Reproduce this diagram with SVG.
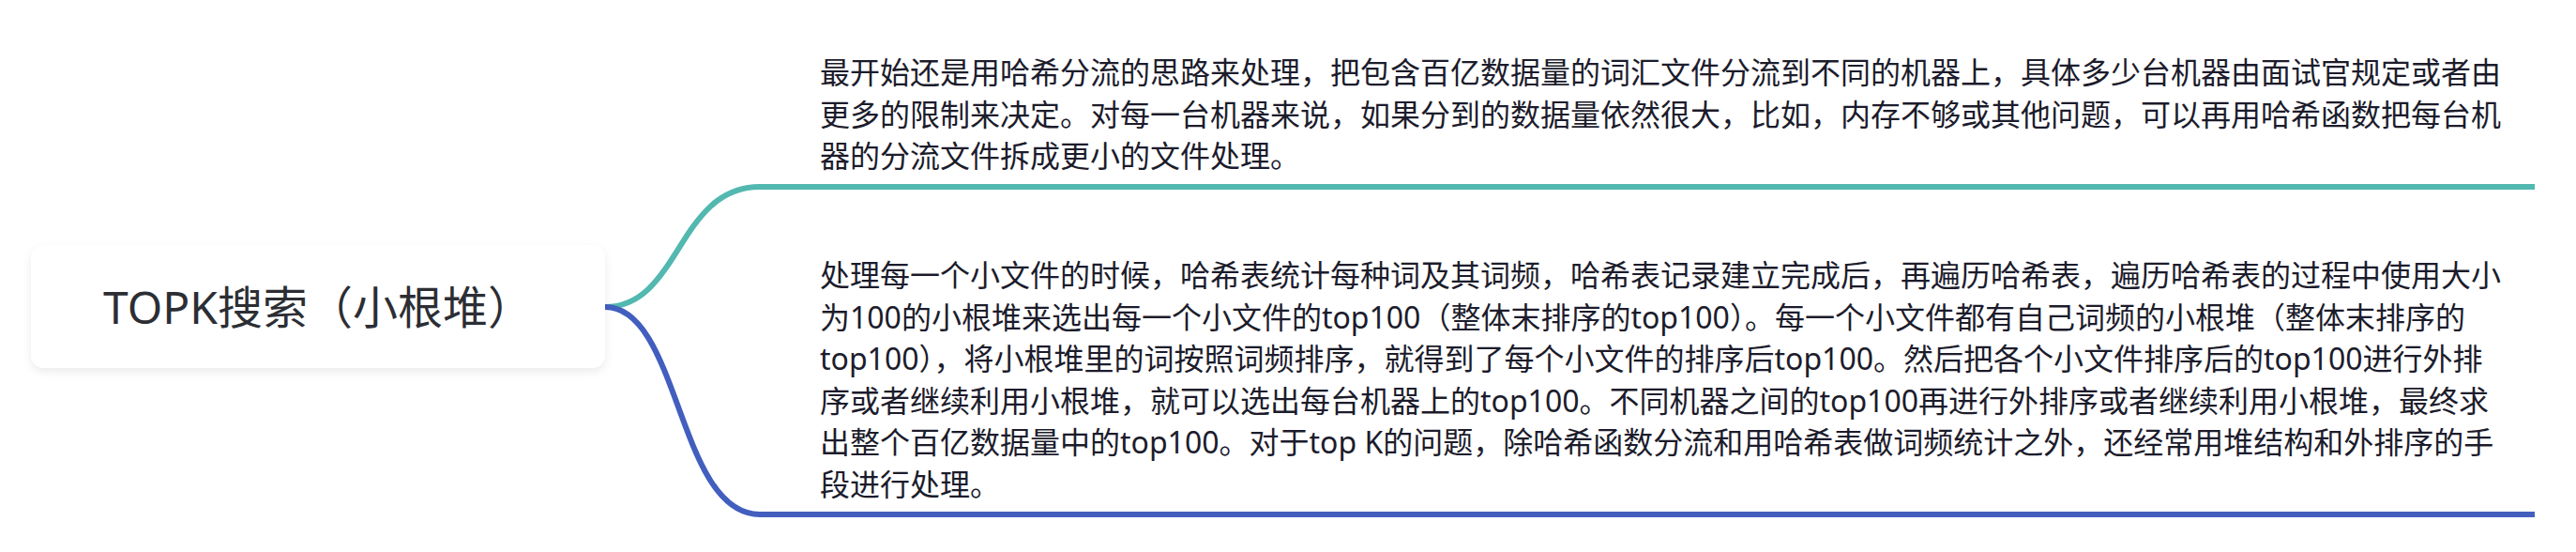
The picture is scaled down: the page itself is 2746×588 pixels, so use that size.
<svg xmlns="http://www.w3.org/2000/svg" width="2746" height="588" viewBox="0 0 2746 588">
<defs>
<style>
.bg{fill:#ffffff}
.root-box{fill:#ffffff}
.root-text{font-family:"Noto Sans","Noto Sans CJK SC",sans-serif;font-size:48px;fill:#2c2e34}
.body-text{font-family:"Noto Sans","Noto Sans CJK SC",sans-serif;font-size:32px;fill:#1c1c2c}
.conn{fill:none;stroke-width:6;stroke-linecap:butt}
.teal{stroke:#52b8b0}
.blue{stroke:#425ebe}
</style>
<filter id="shadow" x="-10%" y="-20%" width="120%" height="150%">
<feDropShadow dx="0" dy="4" stdDeviation="5" flood-color="#000000" flood-opacity="0.08"/>
</filter>
</defs>
<rect class="bg" x="0" y="0" width="2746" height="588"/>
<g id="connectors">
<path class="conn teal" d="M645,327 C725,327 722,199 810,199 L2702,199"/>
<path class="conn blue" d="M645,327 C725,327 722,548 810,548 L2702,548"/>
</g>
<g id="root">
<rect class="root-box" x="33" y="261" width="612" height="131" rx="14" ry="14" filter="url(#shadow)"/>
<text class="root-text" x="339" y="345" text-anchor="middle">TOPK搜索（小根堆）</text>
</g>
<g id="node-hash-split">
<text class="body-text">
<tspan x="874" y="89">最开始还是用哈希分流的思路来处理，把包含百亿数据量的词汇文件分流到不同的机器上，具体多少台机器由面试官规定或者由</tspan>
<tspan x="874" y="133.5">更多的限制来决定。对每一台机器来说，如果分到的数据量依然很大，比如，内存不够或其他问题，可以再用哈希函数把每台机</tspan>
<tspan x="874" y="178">器的分流文件拆成更小的文件处理。</tspan>
</text>
</g>
<g id="node-small-heap">
<text class="body-text">
<tspan x="874" y="305">处理每一个小文件的时候，哈希表统计每种词及其词频，哈希表记录建立完成后，再遍历哈希表，遍历哈希表的过程中使用大小</tspan>
<tspan x="874" y="349.5">为100的小根堆来选出每一个小文件的top100（整体末排序的top100）。每一个小文件都有自己词频的小根堆（整体末排序的</tspan>
<tspan x="874" y="394">top100），将小根堆里的词按照词频排序，就得到了每个小文件的排序后top100。然后把各个小文件排序后的top100进行外排</tspan>
<tspan x="874" y="438.5">序或者继续利用小根堆，就可以选出每台机器上的top100。不同机器之间的top100再进行外排序或者继续利用小根堆，最终求</tspan>
<tspan x="874" y="483">出整个百亿数据量中的top100。对于top K的问题，除哈希函数分流和用哈希表做词频统计之外，还经常用堆结构和外排序的手</tspan>
<tspan x="874" y="527.5">段进行处理。</tspan>
</text>
</g>
</svg>
